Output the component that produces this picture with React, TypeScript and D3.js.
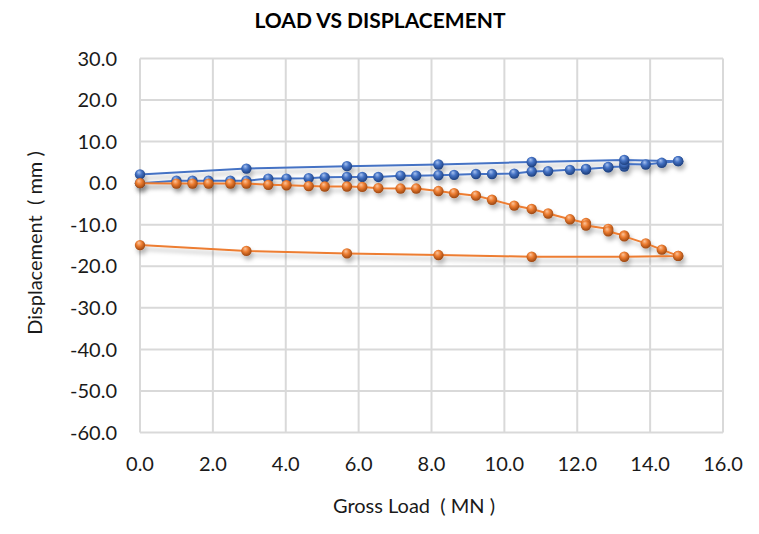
import React from "react";
import * as d3 from "d3";

// ---- data ----
const loadUp = [0, 1.0, 1.44, 1.88, 2.48, 2.92, 3.52, 4.02, 4.63, 5.07, 5.68, 6.1, 6.54, 7.15, 7.58, 8.19, 8.62, 9.22, 9.66, 10.27, 10.75, 11.2, 11.8, 12.24, 12.24, 12.85, 12.85, 13.29, 13.29, 13.88, 14.32, 14.77];
const loadDown = [14.77, 13.29, 10.75, 8.19, 5.68, 2.92, 0];
const blueUp = [0.0, 0.6, 0.6, 0.6, 0.6, 0.6, 1.1, 1.1, 1.2, 1.4, 1.5, 1.5, 1.5, 1.8, 1.8, 1.9, 2.0, 2.2, 2.2, 2.3, 2.8, 2.9, 3.2, 3.3, 3.4, 3.8, 3.9, 4.0, 4.6, 4.5, 4.9, 5.3];
const blueDown = [5.3, 5.6, 5.1, 4.5, 4.1, 3.5, 2.1];
const orangeUp = [0.0, -0.1, -0.1, -0.1, -0.1, -0.1, -0.4, -0.5, -0.7, -0.8, -0.8, -0.9, -1.2, -1.3, -1.3, -1.9, -2.4, -3.0, -4.0, -5.4, -6.2, -7.3, -8.7, -9.6, -10.2, -11.0, -11.6, -12.6, -12.8, -14.5, -16.0, -17.5];
const orangeDown = [-17.5, -17.7, -17.7, -17.3, -16.9, -16.3, -14.9];
const xTicks = [0, 2, 4, 6, 8, 10, 12, 14, 16];
const yTicks = [30, 20, 10, 0, -10, -20, -30, -40, -50, -60];

const title = "LOAD VS DISPLACEMENT";
const xTitle = "Gross Load  ( MN )";
const yTitle = "Displacement  ( mm )";

const W = 759;
const H = 534;
const FONT = "Lato, 'Open Sans', sans-serif";

export default function App() {
  const x = d3.scaleLinear().domain([0, 16]).range([140, 723]);
  const y = d3.scaleLinear().domain([-60, 30]).range([432.5, 58.5]);

  const blue = [...loadUp, ...loadDown].map((l, i) => [l, [...blueUp, ...blueDown][i]] as [number, number]);
  const orange = [...loadUp, ...loadDown].map((l, i) => [l, [...orangeUp, ...orangeDown][i]] as [number, number]);

  const line = d3
    .line<[number, number]>()
    .x((d) => x(d[0]))
    .y((d) => y(d[1]));

  const series = [
    { name: "blue", data: blue, color: "#4472C4", grad: "gBlue" },
    { name: "orange", data: orange, color: "#ED7D31", grad: "gOrange" },
  ];

  const fmt = (v: number) => v.toFixed(1);
  const pre: React.CSSProperties = { whiteSpace: "pre" };

  return (
    <svg
      width={W}
      height={H}
      style={{ position: "absolute", left: 0, top: 0, background: "#fff" }}
      fontFamily={FONT}
    >
      <defs>
        <radialGradient id="gBlue" cx="45%" cy="40%" r="60%" fx="38%" fy="28%">
          <stop offset="0%" stopColor="#a9c3f0" />
          <stop offset="45%" stopColor="#4472C4" />
          <stop offset="100%" stopColor="#1d3f7e" />
        </radialGradient>
        <radialGradient id="gOrange" cx="45%" cy="40%" r="60%" fx="38%" fy="28%">
          <stop offset="0%" stopColor="#fbc59d" />
          <stop offset="45%" stopColor="#ED7D31" />
          <stop offset="100%" stopColor="#9a4510" />
        </radialGradient>
        <filter id="shadow" x="-20%" y="-20%" width="140%" height="160%">
          <feDropShadow dx="2" dy="4" stdDeviation="2.2" floodColor="#000" floodOpacity="0.28" />
        </filter>
        <filter id="zshadow" x="-5%" y="-200%" width="110%" height="600%">
          <feDropShadow dx="0" dy="4" stdDeviation="3" floodColor="#000" floodOpacity="0.22" />
        </filter>
      </defs>

      {/* title */}
      <text x={380} y={28} textAnchor="middle" fontSize={21} fontWeight="bold" fill="#000">
        {title}
      </text>

      {/* grid */}
      <g stroke="#D9D9D9" strokeWidth={2}>
        {xTicks.map((t) => (
          <line key={"gx" + t} x1={x(t)} x2={x(t)} y1={y(30)} y2={y(-60)} />
        ))}
        {yTicks.filter((t) => t !== 0).map((t) => (
          <line key={"gy" + t} x1={x(0)} x2={x(16)} y1={y(t)} y2={y(t)} />
        ))}
      </g>
      {/* zero axis line */}
      <line x1={x(0)} x2={x(16)} y1={y(0)} y2={y(0)} stroke="#A6A6A6" strokeWidth={2.2} filter="url(#zshadow)" />

      {/* y tick labels */}
      <g fontSize={20} fill="#1a1a1a" textAnchor="end">
        {yTicks.map((t) => (
          <text key={"ty" + t} x={117} y={y(t)} dy="0.36em">
            {fmt(t)}
          </text>
        ))}
      </g>
      {/* x tick labels */}
      <g fontSize={20} fill="#1a1a1a" textAnchor="middle">
        {xTicks.map((t) => (
          <text key={"tx" + t} x={x(t)} y={470.5}>
            {fmt(t)}
          </text>
        ))}
      </g>

      {/* axis titles */}
      <text x={414} y={513} textAnchor="middle" fontSize={20} fill="#1a1a1a" style={pre}>
        {xTitle}
      </text>
      <text
        transform={`translate(42,243) rotate(-90)`}
        textAnchor="middle"
        fontSize={20}
        fill="#1a1a1a"
        style={pre}
      >
        {yTitle}
      </text>

      {/* series */}
      {series.map((s) => (
        <g key={s.name} filter="url(#shadow)">
          <path d={line(s.data) ?? ""} fill="none" stroke={s.color} strokeWidth={2} />
          {s.data.map((d, i) => (
            <circle key={i} cx={x(d[0])} cy={y(d[1])} r={5.2} fill={`url(#${s.grad})`} />
          ))}
        </g>
      ))}
    </svg>
  );
}
